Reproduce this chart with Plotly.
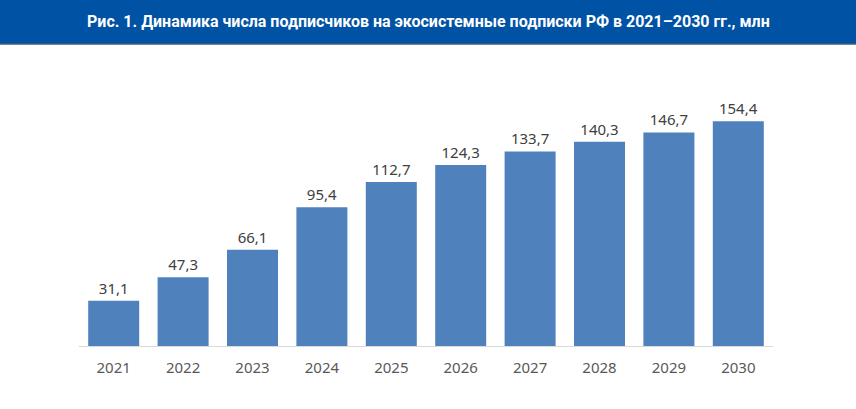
import plotly.graph_objects as go

# Subscribers to ecosystem subscriptions, mln
YEARS = ["2021", "2022", "2023", "2024", "2025", "2026", "2027", "2028", "2029", "2030"]
SUBSCRIBERS = [31.1, 47.3, 66.1, 95.4, 112.7, 124.3, 133.7, 140.3, 146.7, 154.4]
LABELS = [f"{v:.1f}".replace(".", ",") for v in SUBSCRIBERS]

TITLE = "Рис. 1. Динамика числа подписчиков на экосистемные подписки РФ в 2021–2030 гг., млн"

BAR_COLOR = "#4F81BD"
HEADER_COLOR = "#0052A5"

# plot area in pixels: x 79..773, y 84..346
ML, MR, MT, MB = 79, 83, 84, 63
PW, PH = 856 - ML - MR, 409 - MT - MB

fig = go.Figure()
fig.add_trace(
    go.Bar(
        x=YEARS,
        y=SUBSCRIBERS,
        text=LABELS,
        textposition="outside",
        textfont=dict(family="Noto Sans", size=15, color="#404040"),
        marker=dict(color=BAR_COLOR, line=dict(width=0)),
        cliponaxis=False,
        hoverinfo="skip",
    )
)

# header band with the title
fig.add_shape(
    type="rect", xref="paper", yref="paper",
    x0=-ML / PW, x1=1 + MR / PW, y0=1 + (MT - 44) / PH, y1=1 + MT / PH,
    fillcolor=HEADER_COLOR, line=dict(width=0), layer="below",
)
fig.add_shape(
    type="line", xref="paper", yref="paper",
    x0=-ML / PW, x1=1 + MR / PW, y0=1 + (MT - 44) / PH, y1=1 + (MT - 44) / PH,
    line=dict(color="#4A5A70", width=1.5),
)
fig.add_annotation(
    text=f"<b>{TITLE}</b>", xref="paper", yref="paper",
    x=(428 - ML) / PW, y=1 + (MT - 22) / PH, xanchor="center", yanchor="middle",
    showarrow=False, font=dict(family="Roboto", size=16, color="white"),
)

fig.update_layout(
    width=856,
    height=409,
    paper_bgcolor="white",
    plot_bgcolor="white",
    margin=dict(l=ML, r=MR, t=MT, b=MB),
    bargap=0.265,
    showlegend=False,
)
fig.update_xaxes(
    showline=True, linecolor="#D9D9D9", linewidth=1,
    ticks="", ticklabelstandoff=8,
    tickfont=dict(family="Noto Sans", size=15, color="#595959"),
    showgrid=False,
)
fig.update_yaxes(range=[0, 180], visible=False, showgrid=False)

fig.write_html(
    "out.html",
    config={"displayModeBar": False},
    post_script="document.body.style.margin='0';",
)
